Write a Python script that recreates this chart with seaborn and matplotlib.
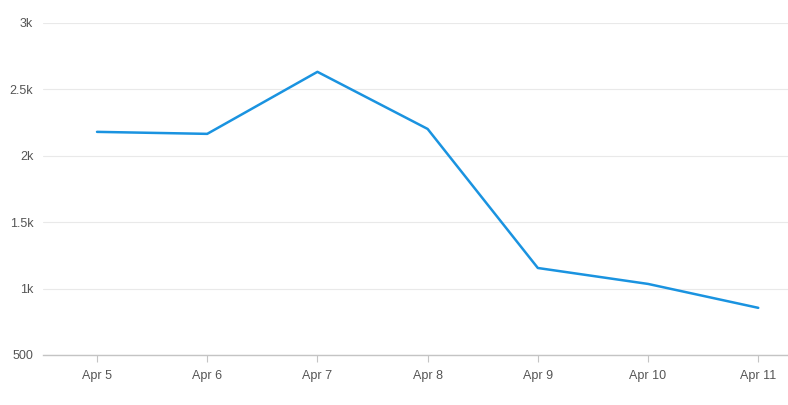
import pandas as pd
import matplotlib.pyplot as plt
import matplotlib.ticker as mticker
import seaborn as sns

# values
dates = ["Apr 5", "Apr 6", "Apr 7", "Apr 8", "Apr 9", "Apr 10", "Apr 11"]
visits = [2180, 2165, 2632, 2202, 1155, 1035, 855]

y_ticks = [500, 1000, 1500, 2000, 2500, 3000]
y_labels = ["500", "1k", "1.5k", "2k", "2.5k", "3k"]

df = pd.DataFrame({"date": dates, "visits": visits})

sns.set_theme(style="white")
plt.rcParams["font.family"] = ["Liberation Sans", "DejaVu Sans"]

fig = plt.figure(figsize=(7.88, 4.05), dpi=100)
ax = fig.add_axes([0.0546, 0.1235, 0.9454, 0.8198])

sns.lineplot(data=df, x="date", y="visits", ax=ax, color="#1a93e0",
             linewidth=1.8, sort=False)

ax.set_ylim(500, 3000)
ax.set_xlim(-0.49, 6.27)
ax.yaxis.set_major_locator(mticker.FixedLocator(y_ticks))
ax.set_yticklabels(y_labels)
ax.grid(axis="y", color="#e9e9e9", linewidth=0.8)
ax.set_axisbelow(True)

for side in ["top", "right", "left"]:
    ax.spines[side].set_visible(False)
ax.spines["bottom"].set_color("#c4c4c4")
ax.spines["bottom"].set_linewidth(1.0)

ax.tick_params(axis="x", length=5, width=0.8, color="#c4c4c4",
               labelsize=9, labelcolor="#555555", pad=6, bottom=True)
ax.tick_params(axis="y", length=0, labelsize=9, labelcolor="#555555", pad=7)
ax.set_xlabel("")
ax.set_ylabel("")

fig.savefig("out.png", dpi=100)
